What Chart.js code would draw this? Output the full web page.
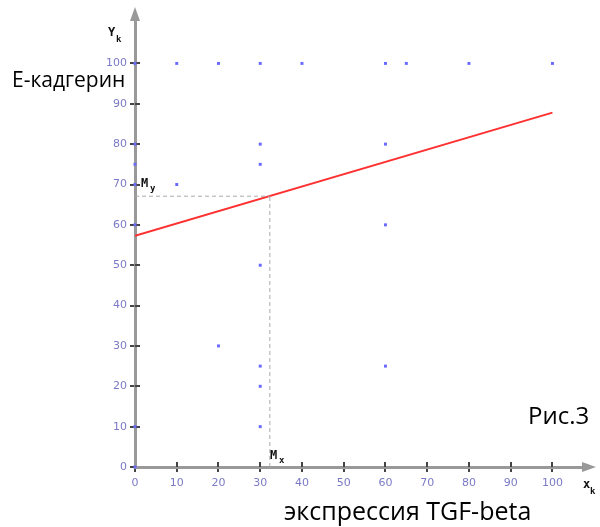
<!DOCTYPE html>
<html>
<head>
<meta charset="utf-8">
<script src="https://cdn.jsdelivr.net/npm/chart.js@4"></script>
<style>
  body { margin: 0; background: #fff; }
  #wrap { width: 600px; height: 527px; }
</style>
</head>
<body>
<div id="wrap"><canvas id="myChart" width="600" height="527"></canvas></div>
<script>
// observed points (x = TGF-beta expression, y = E-cadherin)
var xValues = [0, 0, 0, 0, 0, 0, 0, 10, 20, 30, 40, 60, 65, 80, 100, 30, 30, 10, 30, 60, 60, 20, 30, 30, 30, 60];
var yValues = [100, 80, 75, 70, 60, 10, 0, 100, 100, 100, 100, 100, 100, 100, 100, 80, 75, 70, 50, 80, 60, 30, 25, 20, 10, 25];

// regression line ends
var lineX = [0, 100];
var lineY = [57.3, 87.8];

// means
var meanX = 32.3;
var meanY = 67.1;

var tickValues = [0, 10, 20, 30, 40, 50, 60, 70, 80, 90, 100];

var points = xValues.map((x, i) => ({ x: x, y: yValues[i] }));
var regLine = lineX.map((x, i) => ({ x: x, y: lineY[i] }));

var extras = {
  id: 'extras',
  beforeDatasetsDraw(chart) {
    // inner half of the tick marks, so they cross the axis
    var c = chart.ctx;
    var xs = chart.scales.x, ys = chart.scales.y;
    var x0 = xs.getPixelForValue(0), y0 = ys.getPixelForValue(0);
    c.save();
    c.strokeStyle = '#444';
    c.lineWidth = 2;
    tickValues.forEach(v => {
      if (v === 0) return;
      var px = Math.round(xs.getPixelForValue(v));
      c.beginPath(); c.moveTo(px, y0); c.lineTo(px, y0 - 5); c.stroke();
      var py = Math.round(ys.getPixelForValue(v));
      c.beginPath(); c.moveTo(x0, py); c.lineTo(x0 + 5, py); c.stroke();
    });
    c.restore();
  },
  afterDraw(chart) {
    var c = chart.ctx;
    var xs = chart.scales.x, ys = chart.scales.y;
    var x0 = xs.getPixelForValue(0), y0 = ys.getPixelForValue(0);
    c.save();
    // arrows
    c.fillStyle = '#999';
    c.beginPath();
    c.moveTo(x0, chart.chartArea.top - 8);
    c.lineTo(x0 - 5, chart.chartArea.top + 6);
    c.lineTo(x0 + 5, chart.chartArea.top + 6);
    c.fill();
    c.beginPath();
    c.moveTo(chart.chartArea.right + 6, y0);
    c.lineTo(chart.chartArea.right - 8, y0 - 5);
    c.lineTo(chart.chartArea.right - 8, y0 + 5);
    c.fill();

    c.fillStyle = '#111';
    c.font = 'bold 12px "DejaVu Sans Mono"';
    c.textBaseline = 'alphabetic';
    c.textAlign = 'left';
    c.fillText('Y', 108, 36);
    c.fillText('x', 583, 488);
    c.fillText('M', 141, 187);
    c.fillText('M', 270, 459);
    c.font = 'bold 9px "DejaVu Sans Mono"';
    c.fillText('k', 116, 42);
    c.fillText('k', 590, 494);
    c.fillText('y', 150, 191);
    c.fillText('x', 279, 463);

    c.fillStyle = '#000';
    c.font = '21px "Open Sans"';
    c.fillText('Е-кадгерин', 12, 87);
    c.font = '24px "Open Sans"';
    c.fillText('Рис.3', 528, 424);
    c.font = '25px "Open Sans"';
    c.fillText('экспрессия TGF-beta', 284, 520);
    c.restore();
  }
};

var ctx = document.getElementById('myChart').getContext('2d');
var myChart = new Chart(ctx, {
  type: 'scatter',
  data: {
    datasets: [
      {
        type: 'line',
        data: [{ x: 0, y: meanY }, { x: meanX, y: meanY }],
        borderColor: '#aaa',
        borderWidth: 1,
        borderDash: [4, 3],
        pointRadius: 0
      },
      {
        type: 'line',
        data: [{ x: meanX, y: 0 }, { x: meanX, y: meanY }],
        borderColor: '#aaa',
        borderWidth: 1,
        borderDash: [4, 3],
        pointRadius: 0
      },
      {
        type: 'line',
        data: regLine,
        borderColor: '#ff3030',
        borderWidth: 2,
        pointRadius: 0
      },
      {
        data: points,
        backgroundColor: '#6a6aff',
        borderWidth: 0,
        pointStyle: 'rect',
        pointRadius: 2.1,
        clip: false
      }
    ]
  },
  options: {
    responsive: false,
    animation: false,
    layout: { padding: { left: 0, top: 15, right: 10, bottom: 0 } },
    plugins: {
      legend: { display: false },
      tooltip: { enabled: false }
    },
    scales: {
      x: {
        type: 'linear',
        min: 0,
        max: 109,
        afterBuildTicks: (s) => { s.ticks = tickValues.map(v => ({ value: v })); },
        afterFit: (s) => { s.height = 60; },
        border: { color: '#999', width: 3 },
        grid: { drawOnChartArea: false, color: '#444', lineWidth: 2, tickLength: 5 },
        ticks: { color: '#7a7ac6', font: { size: 11, family: 'Verdana, "DejaVu Sans"' }, padding: 5, maxRotation: 0 }
      },
      y: {
        type: 'linear',
        min: 0,
        max: 112,
        afterBuildTicks: (s) => { s.ticks = tickValues.map(v => ({ value: v })); },
        afterFit: (s) => { s.width = 135; },
        border: { color: '#999', width: 3 },
        grid: { drawOnChartArea: false, color: '#444', lineWidth: 2, tickLength: 5 },
        ticks: { color: '#7a7ac6', font: { size: 11, family: 'Verdana, "DejaVu Sans"' }, padding: 3 }
      }
    }
  },
  plugins: [extras]
});
</script>
</body>
</html>
